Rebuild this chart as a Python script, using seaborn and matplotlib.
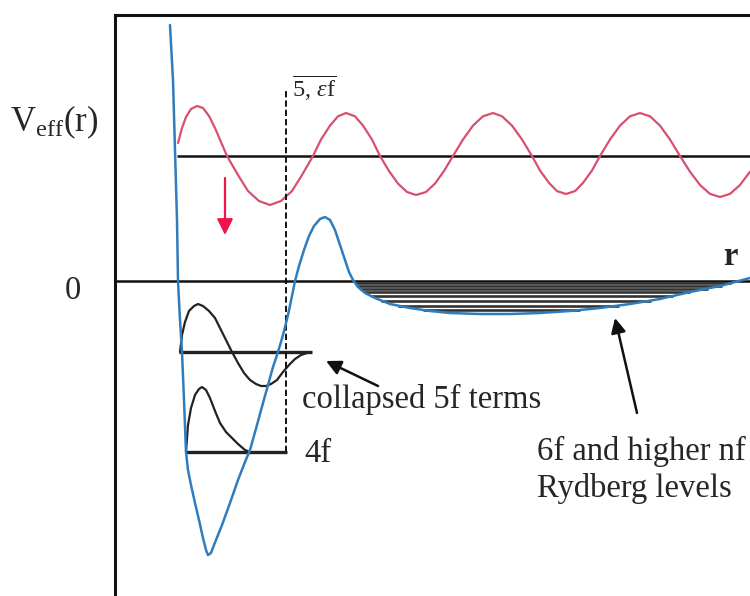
import numpy as np
import matplotlib
matplotlib.use("Agg")
import matplotlib.pyplot as plt
import seaborn as sns

# ---------------- data (schematic units: r to the right, V upward) ----------------
# effective potential V_eff(r) (blue double well)
pot_r = [170, 173, 175, 177, 178, 180, 182, 184, 186, 188, 191, 195, 199, 203, 206, 208,
         211, 214, 222, 230, 238, 245, 250, 257, 263, 268, 273, 278, 283, 288, 292, 295,
         299, 304, 309, 314, 320, 325, 330, 335, 340, 345, 349, 353, 358, 365, 375, 390,
         410, 430, 450, 480, 510, 540, 570, 600, 630, 660, 690, 720, 750]
pot_V = [256, 201, 131, 61, 0, -39, -71, -119, -171, -189, -204, -222, -239, -257, -269, -274,
         -272, -264, -244, -222, -199, -181, -169, -144, -122, -104, -86, -71, -54, -34, -15, 0,
         15, 31, 45, 55, 62, 64, 61, 51, 36, 21, 9, 1, -6, -12, -17, -23,
         -27, -30, -32, -33, -33, -32, -30, -27, -23, -18, -11, -5, 3]

# continuum (epsilon f) wave, red
wave_r = [178, 182, 186, 191, 197, 203, 209, 215, 221, 227,
          238, 248, 259, 270, 281, 292, 302, 313,
          321, 330, 338, 346, 355, 363, 372, 380,
          389, 398, 407, 416, 426, 435, 444, 453,
          463, 473, 483, 493, 502, 512, 522, 532,
          540, 549, 557, 566, 575, 583, 592, 600,
          610, 620, 630, 640, 650, 660, 670, 680,
          690, 700, 710, 720, 730, 740, 750]
wave_V = [138, 153, 164, 172, 175, 173, 165, 153, 139, 125,
          106, 90, 80, 76, 80, 90, 106, 125,
          141.5, 155.4, 164.7, 168, 164.7, 155.4, 141.5, 125,
          110, 97.4, 89, 86, 89, 97.4, 110, 125,
          141.5, 155.4, 164.7, 168, 164.7, 155.4, 141.5, 125,
          110.5, 98.1, 89.9, 87, 89.9, 98.1, 110.5, 125,
          141.5, 155.4, 164.7, 168, 164.7, 155.4, 141.5, 125,
          109.3, 96, 87.1, 84, 87.1, 96, 109.3]
wave_level = 125
wave_start = 177

# collapsed 5f radial function
f5_r = [180, 182, 185, 189, 194, 198, 203, 209, 215, 221, 227, 232, 238, 244, 250, 256,
        261, 266, 271, 277, 283, 289, 295, 301, 307, 311]
f5_V = [-71, -54, -41, -30, -25, -23, -25, -30, -37, -49, -61, -71, -82, -92, -99, -103,
        -105, -105, -103, -99, -91, -84, -78, -74, -72, -71]
f5_level, f5_from, f5_to = -71, 179, 312

# 4f radial function
f4_r = [186, 188, 191, 195, 199, 202, 206, 210, 215, 220, 226, 232, 238, 245, 250]
f4_V = [-171, -144, -127, -114, -108, -106, -109, -117, -130, -142, -151, -157, -163, -169, -171]
f4_level, f4_from, f4_to = -171, 186, 287

# Rydberg nf levels inside the outer well
ryd_levels = [-2, -4.5, -7.5, -11, -15, -19.5, -24.5, -29]

# dashed boundary of the inner well
dash_r, dash_lo, dash_hi = 286, -171, 191

# ---------------- styling ----------------
sns.set_theme(style="white")
plt.rcParams["font.family"] = ["Liberation Serif", "DejaVu Serif"]
plt.rcParams["mathtext.fontset"] = "custom"
plt.rcParams["mathtext.rm"] = "Liberation Serif"
plt.rcParams["mathtext.it"] = "Liberation Serif:italic"
plt.rcParams["mathtext.bf"] = "Liberation Serif:bold"

BLUE = "#2f7dbd"
RED = "#d9506f"
ARROW_RED = "#f0144e"
FS = 23.5

fig = plt.figure(figsize=(7.5, 5.96), dpi=100)
ax = fig.add_axes([115 / 750, 0, 635 / 750, 1 - 15 / 596])
ax.set_xlim(115, 750)
ax.set_ylim(-315, 266)
ax.set_xticks([])
ax.set_yticks([])
for side in ("right", "bottom"):
    ax.spines[side].set_visible(False)
for side in ("left", "top"):
    ax.spines[side].set_linewidth(2.2)
    ax.spines[side].set_color("#111111")

# zero line and continuum reference line
ax.hlines(0, 115, 750, color="#111111", lw=1.8, zorder=2)
ax.hlines(wave_level, wave_start, 750, color="#111111", lw=1.8, zorder=2)

# Rydberg levels between the walls of the outer well
pr = np.array(pot_r, float)
pv = np.array(pot_V, float)
imin = int(np.argmin(np.where(pr > 353, pv, 1e9)))
left_mask = (pr >= 353) & (pr <= pr[imin])
right_mask = (pr >= pr[imin])
lx, lv = pr[left_mask], pv[left_mask]
rx, rv = pr[right_mask], pv[right_mask]
ryd = np.array(ryd_levels, float)
x_left = np.interp(ryd, lv[::-1], lx[::-1])
x_right = np.interp(ryd, rv, rx)
ax.hlines(ryd, x_left, x_right, color="#333333", lw=1.9, zorder=2)

# wave, potential, radial functions
sns.lineplot(x=wave_r, y=wave_V, sort=False, estimator=None, color=RED, lw=1.6, ax=ax, zorder=3)
sns.lineplot(x=pot_r, y=pot_V, sort=False, estimator=None, color=BLUE, lw=1.8, ax=ax, zorder=4)
sns.lineplot(x=f5_r, y=f5_V, sort=False, estimator=None, color="#222222", lw=1.6, ax=ax, zorder=3)
sns.lineplot(x=f4_r, y=f4_V, sort=False, estimator=None, color="#222222", lw=1.6, ax=ax, zorder=3)
ax.hlines([f5_level, f4_level], [f5_from, f4_from], [f5_to, f4_to], color="#222222", lw=2.4, zorder=3)

ax.vlines(dash_r, dash_lo, dash_hi, color="#111111", lw=1.4, linestyles=(0, (3.2, 1.6)), zorder=3)

# texts
ax.text(10, 150, r"$\mathrm{V_{eff}(r)}$", fontsize=25, ha="left", va="baseline", clip_on=False)
ax.text(73, -18, "0", fontsize=FS, ha="center", va="baseline", clip_on=False)
ax.text(730, 16, "r", fontsize=FS, ha="center", va="baseline", fontweight="bold")
ax.text(292, 184, r"$\overline{\mathrm{5,}\,\varepsilon\mathrm{f}}$", fontsize=17.5, ha="left", va="baseline")
ax.text(302, -127, "collapsed 5f terms", fontsize=FS, ha="left", va="baseline")
ax.text(304, -181, "4f", fontsize=FS, ha="left", va="baseline")
ax.text(537, -179, "6f and higher nf", fontsize=FS, ha="left", va="baseline")
ax.text(537, -216, "Rydberg levels", fontsize=FS, ha="left", va="baseline")

# arrows
ax.annotate("", xy=(326, -80), xytext=(378, -105),
            arrowprops=dict(arrowstyle="-|>", color="#111111", lw=1.8, mutation_scale=22, shrinkA=0, shrinkB=0))
ax.annotate("", xy=(615, -37), xytext=(637, -132),
            arrowprops=dict(arrowstyle="-|>", color="#111111", lw=1.8, mutation_scale=22, shrinkA=0, shrinkB=0))
ax.annotate("", xy=(225, 46), xytext=(225, 103),
            arrowprops=dict(arrowstyle="-|>", color=ARROW_RED, lw=1.6, mutation_scale=24, shrinkA=0, shrinkB=0))

fig.savefig("out.png", dpi=100)
